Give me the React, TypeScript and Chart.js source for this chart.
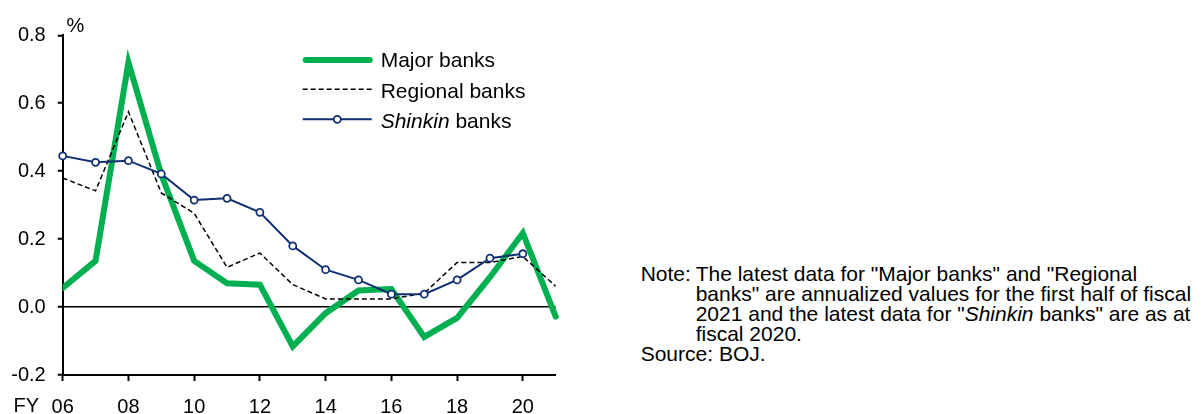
import React, { useEffect, useRef } from 'react';
import { Chart, registerables } from 'chart.js';

Chart.register(...registerables);

// ---- Data ----
const fiscalYears = [6, 7, 8, 9, 10, 11, 12, 13, 14, 15, 16, 17, 18, 19, 20, 21];
const majorBanks = [0.056, 0.136, 0.72, 0.39, 0.136, 0.07, 0.066, -0.116, -0.018, 0.049, 0.053, -0.088, -0.032, 0.088, 0.218, -0.028];
const regionalBanks = [0.38, 0.342, 0.575, 0.336, 0.276, 0.117, 0.159, 0.066, 0.024, 0.024, 0.024, 0.041, 0.131, 0.131, 0.149, 0.061];
const shinkinBanks = [0.445, 0.426, 0.431, 0.392, 0.315, 0.32, 0.279, 0.18, 0.11, 0.08, 0.038, 0.038, 0.08, 0.144, 0.157, null];
const xTickValues = [6, 8, 10, 12, 14, 16, 18, 20];
const yTickValues = [-0.2, 0, 0.2, 0.4, 0.6, 0.8];

const GREEN = '#00B050';
const NAVY = '#102F72';
const FONT = "'Liberation Sans', Arial, sans-serif";

function toPoints(values: (number | null)[]) {
  const pts: { x: number; y: number }[] = [];
  values.forEach((v, i) => {
    if (v !== null) pts.push({ x: fiscalYears[i], y: v });
  });
  return pts;
}

export default function App() {
  const ref = useRef<HTMLCanvasElement>(null);

  useEffect(() => {
    const chart = new Chart(ref.current as HTMLCanvasElement, {
      type: 'line',
      data: {
        datasets: [
          {
            label: 'Major banks',
            data: toPoints(majorBanks),
            borderColor: GREEN,
            borderWidth: 6,
            borderCapStyle: 'round',
            pointRadius: 0,
            order: 3,
            clip: { left: 0, top: 8, right: 8, bottom: 8 } as any,
          },
          {
            label: 'Regional banks',
            data: toPoints(regionalBanks),
            borderColor: '#000',
            borderWidth: 1.5,
            borderDash: [5, 3],
            pointRadius: 0,
            order: 2,
          },
          {
            label: 'Shinkin banks',
            data: toPoints(shinkinBanks),
            borderColor: NAVY,
            borderWidth: 2,
            pointRadius: 3.5,
            pointBorderWidth: 1.8,
            pointBackgroundColor: '#fff',
            pointBorderColor: NAVY,
            order: 1,
            clip: false as any,
          },
        ],
      },
      options: {
        animation: false,
        responsive: false,
        devicePixelRatio: 1,
        layout: { padding: { left: 0, top: 35.3, right: 44.3, bottom: 0 } },
        plugins: { legend: { display: false }, tooltip: { enabled: false } },
        scales: {
          x: {
            type: 'linear',
            min: 6,
            max: 21,
            afterFit: (s: any) => {
              s.height = 39;
            },
            afterBuildTicks: (s: any) => {
              s.ticks = xTickValues.map((v) => ({ value: v }));
            },
            ticks: {
              callback: (v: any) => String(v).padStart(2, '0'),
              font: { family: FONT, size: 20 },
              color: '#000',
              padding: 14,
              maxRotation: 0,
              autoSkip: false,
            },
            grid: {
              drawOnChartArea: false,
              drawTicks: true,
              tickLength: 6,
              tickColor: '#000',
              tickWidth: 2,
            },
            border: { display: true, color: '#000', width: 2 },
          },
          y: {
            min: -0.2,
            max: 0.8,
            afterFit: (s: any) => {
              s.width = 62.7;
            },
            afterBuildTicks: (s: any) => {
              s.ticks = yTickValues.map((v) => ({ value: v }));
            },
            ticks: {
              callback: (v: any) => Number(v).toFixed(1),
              font: { family: FONT, size: 20 },
              color: '#000',
              padding: 12,
              autoSkip: false,
            },
            grid: {
              drawOnChartArea: true,
              drawTicks: true,
              tickLength: 5,
              color: (ctx: any) => (ctx.tick && Math.abs(ctx.tick.value) < 1e-9 ? '#000' : 'rgba(0,0,0,0)'),
              lineWidth: 1.5,
              tickColor: '#000',
              tickWidth: 2,
            },
            border: { display: true, color: '#000', width: 2 },
          },
        },
      },
    });
    return () => chart.destroy();
  }, []);

  const text: React.CSSProperties = {
    position: 'absolute',
    fontFamily: FONT,
    color: '#000',
    whiteSpace: 'nowrap',
  };

  return (
    <div style={{ position: 'absolute', left: 0, top: 0, width: 1202, height: 414, background: '#fff', overflow: 'hidden' }}>
      <canvas ref={ref} width={600} height={414} style={{ position: 'absolute', left: 0, top: 0, width: 600, height: 414 }} />
      <div style={{ ...text, left: 66.5, top: 12.8, fontSize: 20, lineHeight: '24px' }}>%</div>
      <div style={{ ...text, left: 13.5, top: 393.4, fontSize: 20, lineHeight: '24px' }}>FY</div>

      <svg style={{ position: 'absolute', left: 0, top: 0, overflow: 'visible' }} width={600} height={414}>
        <line x1={305.7} x2={369.7} y1={60} y2={60} stroke={GREEN} strokeWidth={6} strokeLinecap="round" />
        <line x1={302.7} x2={371.7} y1={89.3} y2={89.3} stroke="#000" strokeWidth={1.5} strokeDasharray="5 3" />
        <line x1={302.7} x2={371.7} y1={119.3} y2={119.3} stroke={NAVY} strokeWidth={2} />
        <circle cx={337.3} cy={119.3} r={3.5} fill="#fff" stroke={NAVY} strokeWidth={1.8} />
      </svg>
      <div style={{ ...text, left: 380.7, top: 48, fontSize: 21, lineHeight: '24px' }}>Major banks</div>
      <div style={{ ...text, left: 380.7, top: 79.3, fontSize: 21, lineHeight: '24px' }}>Regional banks</div>
      <div style={{ ...text, left: 380.7, top: 109.3, fontSize: 21, lineHeight: '24px' }}>
        <i>Shinkin</i> banks
      </div>

      <div style={{ ...text, left: 640.7, top: 264, fontSize: 21, lineHeight: '20px' }}>
        <div style={{ display: 'flex' }}>
          <div style={{ width: 55 }}>Note:</div>
          <div>
            The latest data for "Major banks" and "Regional
            <br />
            banks" are annualized values for the first half of fiscal
            <br />
            2021 and the latest data for "<i>Shinkin</i> banks" are as at
            <br />
            fiscal 2020.
          </div>
        </div>
        <div>Source: BOJ.</div>
      </div>
    </div>
  );
}
